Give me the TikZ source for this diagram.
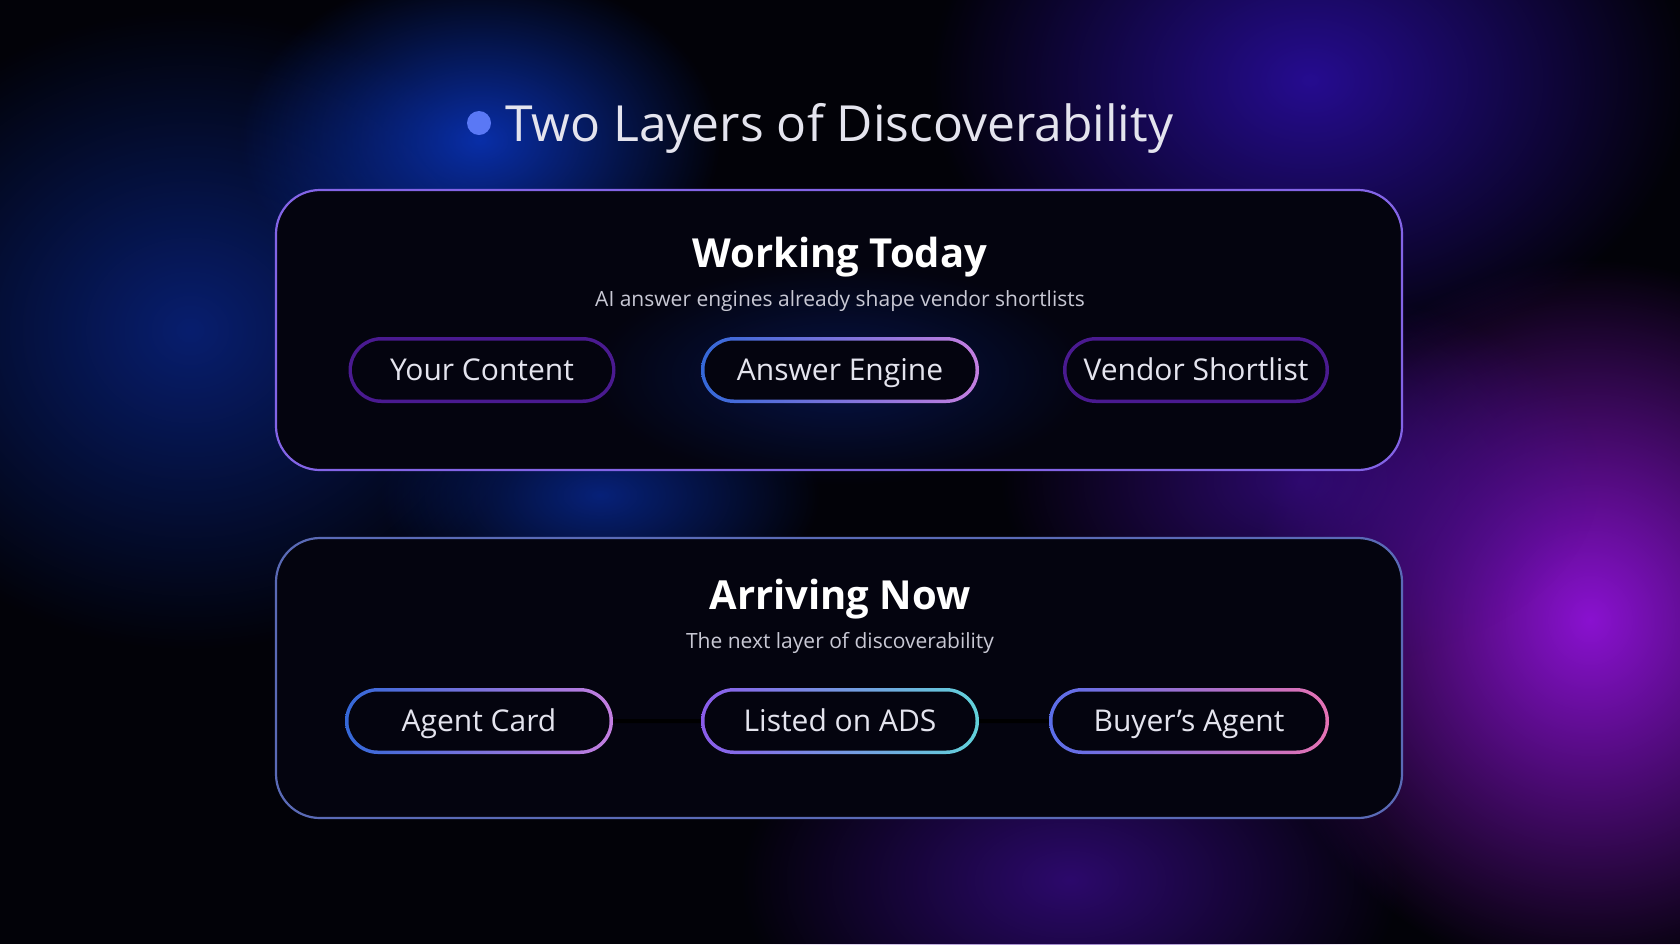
\documentclass[tikz,border=0pt]{standalone}
\usepackage{fontspec}
\setmainfont{Open Sans}
\usepackage{tikz}
\usetikzlibrary{shapes.misc,fadings,positioning}
\definecolor{bgdark}{HTML}{020208}
\definecolor{boxfill}{HTML}{04040F}
\definecolor{rimone}{HTML}{8364E6}
\definecolor{rimtwo}{HTML}{5A6AB6}
\definecolor{dotblue}{HTML}{5A78F5}
\definecolor{titletxt}{HTML}{E4E4EE}
\definecolor{subtxt}{HTML}{C8C8D4}
\definecolor{glowblue}{HTML}{0A2A9A}
\definecolor{glowbright}{HTML}{0A36C4}
\definecolor{glowindigo}{HTML}{2C0EA8}
\definecolor{glowviolet}{HTML}{8A12D0}
\definecolor{glowplum}{HTML}{3E0C96}
\definecolor{pdeep}{HTML}{4A1A90}
\definecolor{pblue}{HTML}{3468D8}
\definecolor{porchid}{HTML}{C47EE0}
\definecolor{pviolet}{HTML}{8A5CEA}
\definecolor{pcyan}{HTML}{62D2DA}
\definecolor{pazure}{HTML}{5A6EEA}
\definecolor{ppink}{HTML}{E672B4}
\tikzfading[name=glowfade, inner color=transparent!0, outer color=transparent!100]
\tikzset{
  layerbox/.style={rounded corners=22pt, fill=boxfill, line width=1.1pt},
  pillrim/.style={rounded rectangle, minimum height=33pt, inner sep=0pt},
  pilltext/.style={rounded rectangle, fill=boxfill, minimum height=29.5pt, inner sep=0pt,
    text height=10.5pt, text depth=0pt, text=titletxt, font=\fontsize{15}{18}\selectfont},
  link/.style={line width=2pt, black},
}

\begin{document}
\begin{tikzpicture}[x=0.5pt, y=-0.5pt]
	% background and glows
	\fill[bgdark] (0,0) rectangle (1680,944);
	\useasboundingbox (0,0) rectangle (1680,944);
	\fill[glowblue, path fading=glowfade, opacity=.7] (190,330) ellipse (360 and 320);
	\fill[glowbright, path fading=glowfade, opacity=.85] (480,140) ellipse (240 and 170);
	\fill[glowindigo, path fading=glowfade, opacity=.85] (1310,80) ellipse (380 and 280);
	\fill[glowviolet, path fading=glowfade] (1590,620) ellipse (340 and 360);
	\fill[glowplum, path fading=glowfade, opacity=.7] (1070,880) ellipse (330 and 200);
	\fill[glowbright, path fading=glowfade, opacity=.6] (600,495) ellipse (220 and 120);
	\fill[glowplum, path fading=glowfade, opacity=.7] (1300,480) ellipse (300 and 190);

	% title
	\fill[dotblue] (479,123) circle (12);
	\node[anchor=west, text=titletxt, font=\fontsize{24.9}{30}\selectfont] (title) at (498,128) {Two Layers of Discoverability};

	% layer boxes
	\draw[layerbox, draw=rimone] (276,190) rectangle (1402,470);
	\draw[layerbox, draw=rimtwo] (276,538) rectangle (1402,818);
	\fill[glowblue, path fading=glowfade, opacity=.4] (840,375) ellipse (250 and 110);

	% first layer
	\node[text=white, font=\fontsize{20}{24}\bfseries] (today) at (840,257) {Working Today};
	\node[text=subtxt, font=\fontsize{10.5}{13}\selectfont] (todaysub) at (840,301) {AI answer engines already shape vendor shortlists};

	\node[pillrim, fill=pdeep, minimum width=133.5pt] (yc0) at (482,370) {};
	\node[pilltext, minimum width=130pt] (yc) at (482,370) {Your Content};
	\node[pillrim, left color=pblue, right color=porchid, minimum width=139pt] (ae0) at (840,370) {};
	\node[pilltext, minimum width=135.5pt] (ae) at (840,370) {Answer Engine};
	\node[pillrim, fill=pdeep, minimum width=133pt] (vs0) at (1196,370) {};
	\node[pilltext, minimum width=129.5pt] (vs) at (1196,370) {Vendor Shortlist};

	% second layer
	\node[text=white, font=\fontsize{20}{24}\bfseries] (now) at (840,599) {Arriving Now};
	\node[text=subtxt, font=\fontsize{10.5}{13}\selectfont] (nowsub) at (840,643) {The next layer of discoverability};

	\node[pillrim, left color=pblue, right color=porchid, minimum width=134pt] (ac0) at (479,721) {};
	\node[pilltext, minimum width=130.5pt] (ac) at (479,721) {Agent Card};
	\node[pillrim, left color=pviolet, right color=pcyan, minimum width=139pt] (lo0) at (840,721) {};
	\node[pilltext, minimum width=135.5pt] (lo) at (840,721) {Listed on ADS};
	\node[pillrim, left color=pazure, right color=ppink, minimum width=140pt] (ba0) at (1189,721) {};
	\node[pilltext, minimum width=136.5pt] (ba) at (1189,721) {Buyer’s Agent};

	% links
	\draw[link] (ac0) -- (lo0);
	\draw[link] (lo0) -- (ba0);
\end{tikzpicture}
\end{document}
